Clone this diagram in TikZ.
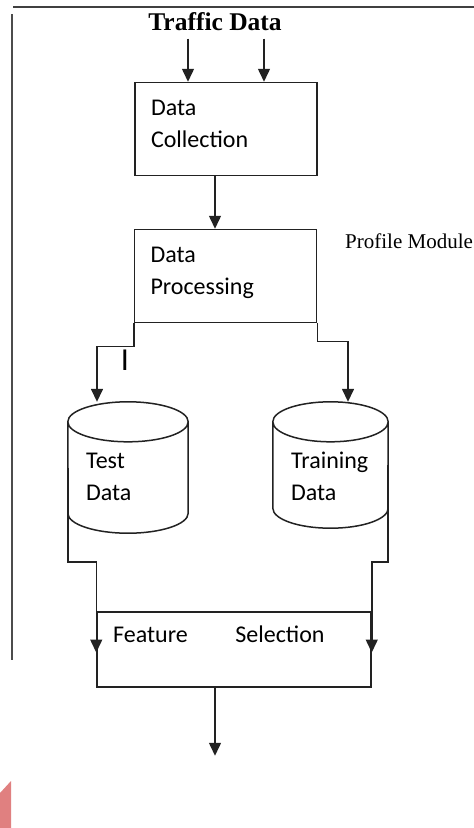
\documentclass[tikz,border=0pt]{standalone}
\usepackage{fontspec}
\setmainfont{Liberation Serif}
\newfontfamily\calib{Carlito}
\usetikzlibrary{arrows.meta,positioning,calc}
\definecolor{inkgrey}{RGB}{34,34,34}
\definecolor{cornerred}{RGB}{224,128,128}
\newcommand{\boxfont}{\calib\fontsize{24}{32}\selectfont}
% cylinder round an invisible store node, 20pt deep ends
\newcommand{\drawstore}[1]{%
  \draw[wire] let \p1=($(#1.north east)-(#1.north west)$) in
    ($(#1.north)+(0,20)$) ellipse [x radius=0.5*\x1, y radius=20pt]
    ($(#1.north west)+(0,20)$) -- ($(#1.south west)+(0,-20)$)
    arc [start angle=180, end angle=360, x radius=0.5*\x1, y radius=20pt]
    -- ($(#1.north east)+(0,20)$);}
\tikzset{
  wire/.style={line width=1.5pt,draw=inkgrey},
  flow/.style={wire,-{Triangle[width=12pt,length=13pt]}},
  stagebox/.style={wire,minimum width=182pt,minimum height=93pt,
    text width=150pt,inner xsep=16pt,align=left,text depth=43pt,font=\boxfont},
  store/.style={inner sep=0pt,minimum width=120pt,minimum height=131pt},
  storetext/.style={anchor=north west,inner sep=0pt,align=left,font=\boxfont}
}
\begin{document}
\begin{tikzpicture}[x=1pt,y=-1pt]
  \useasboundingbox (0,0) rectangle (474,828);
  % page edges
  \draw[line width=1.6pt,draw=black!75] (13,7) -- (474,7);
  \draw[line width=1.2pt,draw=black!70] (12,14) -- (12,660);
  \fill[cornerred] (0,793) -- (11,781) -- (11,828) -- (0,828) -- cycle;
  % input and collection
  \node[font=\bfseries\fontsize{25.5}{28}\selectfont] (traffic) at (215,22) {Traffic Data};
  \node[stagebox] (dc) at (226,129) {Data\\Collection};
  \coordinate (inA) at ($(traffic.south)+(-27,4)$);
  \coordinate (inB) at ($(traffic.south)+(49,4)$);
  \draw[flow] (inA) -- (inA |- dc.north);
  \draw[flow] (inB) -- (inB |- dc.north);
  % processing
  \node[stagebox] (dp) at (225.5,276) {Data\\Processing};
  \draw[flow] (dc.south -| traffic) -- (dp.north -| traffic);
  \node[anchor=base west,inner sep=0pt,font=\fontsize{21}{24}\selectfont] (profile) at (345,248) {Profile Module};
  % stores
  \node[store] (test) at (128,467.5) {};
  \drawstore{test}
  \node[storetext] (testlbl) at (86,453) {Test\\Data};
  \node[store,minimum width=115pt,minimum height=126pt] (train) at (330.5,465) {};
  \drawstore{train}
  \node[storetext] (trainlbl) at (291,452) {Training\\Data};
  \node[font=\calib\fontsize{32}{32}\selectfont] (mark) at (125,360) {I};
  \draw[flow] (dp.south west) -- ++(0,23) -| ($(test.north)+(-31,0)$);
  \draw[flow] (dp.south east) -- ++(0,18) -| ($(train.north)+(17.5,0)$);
  % feature selection
  \node[wire,minimum width=274pt,minimum height=75pt] (fs) at (234,649.5) {};
  \node[anchor=base west,inner sep=0pt,font=\boxfont] (fslbl) at (113,642) {Feature\hspace{47.6pt}Selection};
  \draw[flow] (test.west) -- ++(0,94.5) -| ($(fs.west)+(0,3)$);
  \draw[flow] (train.east) -- ++(0,97) -| ($(fs.east)+(0,3)$);
  \draw[flow] (fs.south -| traffic) -- ++(0,68);
\end{tikzpicture}
\end{document}
